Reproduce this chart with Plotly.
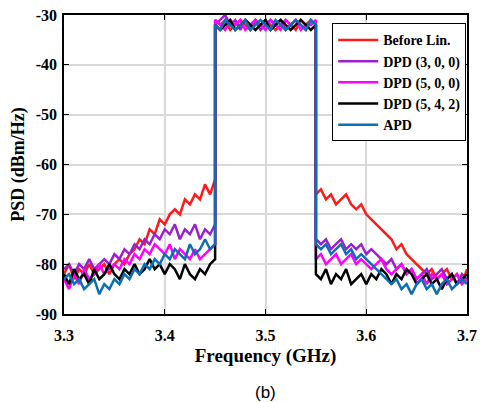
import numpy as np
import plotly.graph_objects as go

x_left = [round(3.300 + 0.005*i, 3) for i in range(31)]
x_band = [round(3.450 + 0.005*i, 3) for i in range(21)]
x_right = [round(3.550 + 0.005*i, 3) for i in range(31)]

y_ticks = [-90, -80, -70, -60, -50, -40, -30]
y_labels = ["-90", "-80", "-70", "-60", "-50", "-40", "-30"]
x_ticks = [3.3, 3.4, 3.5, 3.6, 3.7]
x_labels = ["3.3", "3.4", "3.5", "3.6", "3.7"]

red_L = [-82,-80,-83,-81,-82,-80,-82,-81,-80,-82,-80,-79,-80,-78,-77,-75,-76,-73,-74,-71,-72,-70,-69,-70,-67,-68,-66,-67,-64,-66,-63]
pur_L = [-81,-80,-82,-80,-81,-79,-81,-80,-79,-80,-78,-79,-77,-78,-76,-77,-75,-76,-74,-75,-73,-74,-72,-75,-73,-74,-72,-75,-73,-74,-72]
mag_L = [-83,-85,-82,-84,-81,-83,-82,-80,-82,-81,-80,-81,-79,-80,-78,-79,-77,-78,-76,-77,-78,-76,-79,-77,-78,-79,-77,-79,-78,-77,-76]
blk_L = [-82,-84,-81,-83,-82,-84,-81,-83,-82,-80,-82,-83,-81,-82,-80,-82,-81,-79,-81,-80,-82,-80,-81,-83,-80,-82,-83,-81,-82,-80,-79]
blu_L = [-83,-82,-84,-83,-85,-84,-83,-86,-84,-85,-83,-84,-82,-83,-81,-82,-80,-81,-79,-80,-78,-79,-77,-78,-79,-76,-78,-77,-75,-77,-76]

red_B = [-31,-32,-31,-33,-32,-31,-32,-33,-31,-32,-31,-32,-33,-32,-31,-32,-33,-31,-32,-31,-32]
pur_B = [-32,-31,-30,-32,-31,-33,-31,-32,-31,-33,-32,-31,-32,-31,-33,-32,-31,-32,-33,-31,-32]
mag_B = [-31,-32,-33,-31,-32,-31,-33,-32,-31,-32,-33,-31,-32,-33,-31,-32,-31,-33,-32,-32,-31]
blk_B = [-32,-33,-32,-31,-33,-32,-31,-32,-33,-32,-31,-33,-32,-31,-32,-33,-32,-31,-32,-33,-32]
blu_B = [-32,-33,-31,-32,-33,-32,-31,-33,-32,-31,-32,-33,-31,-32,-33,-32,-31,-32,-33,-31,-32]

red_R = [-66,-65,-67,-66,-68,-67,-66,-68,-69,-68,-70,-71,-72,-73,-74,-75,-77,-76,-78,-79,-80,-81,-82,-81,-83,-82,-81,-83,-82,-84,-81]
pur_R = [-75,-76,-75,-77,-76,-75,-77,-76,-77,-76,-78,-77,-78,-79,-80,-79,-81,-80,-82,-81,-83,-82,-81,-83,-82,-81,-83,-82,-84,-82,-83]
mag_R = [-79,-78,-80,-79,-78,-80,-79,-78,-80,-79,-80,-81,-80,-79,-81,-82,-81,-80,-82,-81,-83,-82,-84,-82,-83,-82,-84,-83,-82,-84,-83]
blk_R = [-82,-83,-81,-84,-82,-83,-81,-84,-83,-82,-84,-82,-83,-81,-82,-84,-82,-83,-81,-82,-84,-83,-82,-84,-83,-85,-83,-82,-84,-83,-82]
blu_R = [-76,-77,-76,-78,-77,-76,-78,-77,-79,-78,-79,-80,-81,-82,-83,-84,-83,-85,-84,-86,-84,-83,-85,-84,-86,-84,-83,-85,-84,-83,-84]

names = ["Before Lin.", "DPD (3, 0, 0)", "DPD (5, 0, 0)", "DPD (5, 4, 2)", "APD"]
colors = ["#ff1a1a", "#9b1fd0", "#ff00ff", "#000000", "#0a6fb5"]
series = [(red_L, red_B, red_R), (pur_L, pur_B, pur_R), (mag_L, mag_B, mag_R),
          (blk_L, blk_B, blk_R), (blu_L, blu_B, blu_R)]

xs = x_left + x_band + x_right
fig = go.Figure()
for n, c, (L, B, R) in zip(names, colors, series):
    fig.add_trace(go.Scatter(x=xs, y=L + B + R, mode="lines", name="<b>" + n + "</b>",
                             line=dict(color=c, width=2.5)))

tf = dict(family="Liberation Serif", size=16, color="black")
ax = dict(showline=True, linecolor="black", linewidth=1.5, mirror="ticks", ticks="inside",
          ticklen=5, tickcolor="black", showgrid=True, gridcolor="#d9d9d9", gridwidth=1.5,
          zeroline=False, tickfont=tf, automargin=False)
fig.update_layout(
    width=480, height=402, margin=dict(l=64, r=13, t=15, b=88),
    paper_bgcolor="white", plot_bgcolor="white",
    xaxis=dict(ax, range=[3.3, 3.7], tickvals=x_ticks, ticktext=["<b>%s</b>" % t for t in x_labels],
               ticklabelstandoff=6,
               title=dict(text="<b>Frequency (GHz)</b>", font=dict(family="Liberation Serif", size=19, color="black"), standoff=6)),
    yaxis=dict(ax, range=[-90, -30], tickvals=y_ticks, ticktext=["<b>%s</b>" % t for t in y_labels],
               ticklabelstandoff=2,
               title=dict(text="<b>PSD (dBm/Hz)</b>", font=dict(family="Liberation Serif", size=18, color="black"), standoff=6)),
    legend=dict(x=0.998, y=0.972, xanchor="right", yanchor="top", bgcolor="white",
                bordercolor="black", borderwidth=1, itemwidth=40,
                font=dict(family="Liberation Serif", size=14, color="black"), tracegroupgap=0),
    showlegend=True,
)
fig.add_annotation(x=0.5, y=-0.225, xref="paper", yref="paper", yanchor="top", text="(b)",
                   showarrow=False, font=dict(family="Liberation Sans", size=17, color="black"))
fig.write_html("out.html", config={"displayModeBar": False},
               post_script="document.body.style.margin='0';document.body.style.overflow='hidden';")
